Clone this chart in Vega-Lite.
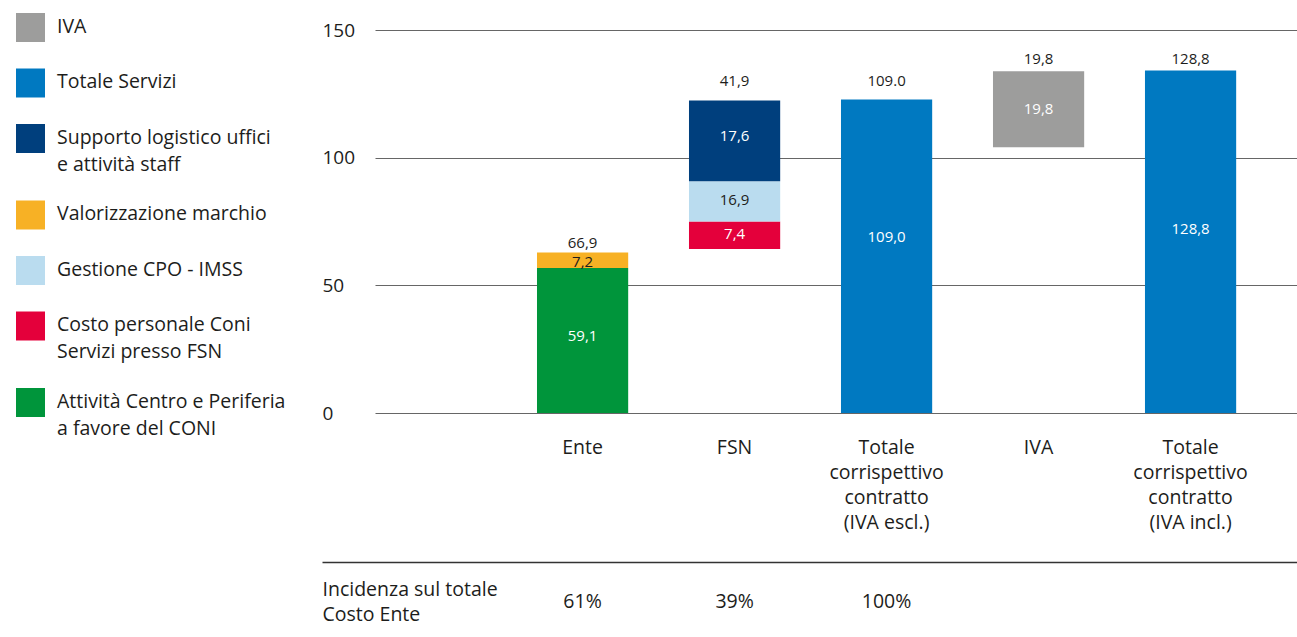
{
  "$schema": "https://vega.github.io/schema/vega-lite/v6.json",
  "background": "white",
  "autosize": {"type": "pad"},
  "padding": {"left": 16, "top": 13, "right": 0, "bottom": 0},
  "config": {
    "view": {"stroke": null},
    "font": "Open Sans",
    "text": {"font": "Open Sans"},
    "axis": {"labelFont": "Open Sans", "titleFont": "Open Sans"},
    "legend": {"labelFont": "Open Sans"}
  },
  "datasets": {
    "segments": [
      {"cat": "Ente", "series": "Attività Centro e Periferia a favore del CONI", "start": 0, "end": 56.8, "label": "59,1", "labelAt": 30.0},
      {"cat": "Ente", "series": "Valorizzazione marchio", "start": 56.8, "end": 62.9, "label": "7,2", "labelAt": 59.3},
      {"cat": "FSN", "series": "Costo personale Coni Servizi presso FSN", "start": 64.2, "end": 75.0, "label": "7,4", "labelAt": 70.3},
      {"cat": "FSN", "series": "Gestione CPO - IMSS", "start": 75.0, "end": 90.8, "label": "16,9", "labelAt": 83.3},
      {"cat": "FSN", "series": "Supporto logistico uffici e attività staff", "start": 90.8, "end": 122.4, "label": "17,6", "labelAt": 108.3},
      {"cat": "Totale corrispettivo contratto (IVA escl.)", "series": "Totale Servizi", "start": 0, "end": 122.8, "label": "109,0", "labelAt": 68.8},
      {"cat": "IVA", "series": "IVA", "start": 104.1, "end": 133.8, "label": "19,8", "labelAt": 118.9},
      {"cat": "Totale corrispettivo contratto (IVA incl.)", "series": "Totale Servizi", "start": 0, "end": 134.1, "label": "128,8", "labelAt": 71.9}
    ],
    "totals": [
      {"cat": "Ente", "label": "66,9", "labelAt": 66.4},
      {"cat": "FSN", "label": "41,9", "labelAt": 130.2},
      {"cat": "Totale corrispettivo contratto (IVA escl.)", "label": "109.0", "labelAt": 130.2},
      {"cat": "IVA", "label": "19,8", "labelAt": 138.8},
      {"cat": "Totale corrispettivo contratto (IVA incl.)", "label": "128,8", "labelAt": 138.8}
    ],
    "incidence": [
      {"cat": "Ente", "row": "Incidenza sul totale Costo Ente", "pct": "61%"},
      {"cat": "FSN", "row": "Incidenza sul totale Costo Ente", "pct": "39%"},
      {"cat": "Totale corrispettivo contratto (IVA escl.)", "row": "Incidenza sul totale Costo Ente", "pct": "100%"}
    ]
  },
  "spacing": 30,
  "vconcat": [
    {
      "width": 922,
      "height": 383,
      "layer": [
        {
          "data": {"name": "segments"},
          "mark": {"type": "bar"},
          "encoding": {
            "x": {
              "field": "cat",
              "type": "nominal",
              "sort": null,
              "scale": {
                "type": "band",
                "domain": ["Ente", "FSN", "Totale corrispettivo contratto (IVA escl.)", "IVA", "Totale corrispettivo contratto (IVA incl.)"],
                "paddingInner": 0.4,
                "paddingOuter": 0.733,
                "align": 0.727
              },
              "axis": {
                "title": null,
                "orient": "bottom",
                "domain": false,
                "ticks": false,
                "tickSize": 0,
                "grid": false,
                "labelAngle": 0,
                "labelPadding": 25.4,
                "labelBaseline": "top",
                "labelFontSize": 19.5,
                "labelLineHeight": 25,
                "labelColor": "#1d1d1b",
                "labelOverlap": false,
                "labelLimit": 400,
                "labelExpr": "datum.label === 'Totale corrispettivo contratto (IVA escl.)' ? ['Totale', 'corrispettivo', 'contratto', '(IVA escl.)'] : datum.label === 'Totale corrispettivo contratto (IVA incl.)' ? ['Totale', 'corrispettivo', 'contratto', '(IVA incl.)'] : datum.label"
              }
            },
            "y": {
              "field": "start",
              "type": "quantitative",
              "scale": {"domain": [0, 150], "nice": false},
              "axis": {
                "title": null,
                "values": [0, 50, 100, 150],
                "grid": true,
                "gridColor": "#666666",
                "gridWidth": 1.2,
                "domain": false,
                "ticks": false,
                "tickSize": 0,
                "labelPadding": 53,
                "labelAlign": "left",
                "labelBaseline": "middle",
                "labelFontSize": 19,
                "labelColor": "#1d1d1b"
              }
            },
            "y2": {"field": "end"},
            "color": {
              "field": "series",
              "type": "nominal",
              "scale": {
                "domain": ["IVA", "Totale Servizi", "Supporto logistico uffici e attività staff", "Valorizzazione marchio", "Gestione CPO - IMSS", "Costo personale Coni Servizi presso FSN", "Attività Centro e Periferia a favore del CONI"],
                "range": ["#9d9d9c", "#0079c1", "#003f7d", "#f7b125", "#badcef", "#e4003b", "#00953b"]
              },
              "legend": {
                "title": null,
                "orient": "none",
                "legendX": -359,
                "legendY": -17,
                "padding": 0,
                "symbolType": "square",
                "symbolSize": 841,
                "symbolStrokeWidth": 0,
                "symbolOpacity": 1,
                "labelFontSize": 19.5,
                "labelColor": "#1d1d1b",
                "labelOffset": 12,
                "labelLimit": 400,
                "labelBaseline": "alphabetic",
                "rowPadding": 26.5,
                "labelExpr": "datum.label === 'Supporto logistico uffici e attività staff' ? ['Supporto logistico uffici', 'e attività staff'] : datum.label === 'Costo personale Coni Servizi presso FSN' ? ['Costo personale Coni', 'Servizi presso FSN'] : datum.label === 'Attività Centro e Periferia a favore del CONI' ? ['Attività Centro e Periferia', 'a favore del CONI'] : datum.label",
                "encode": {
                  "labels": {"update": {"dy": {"value": 5}, "lineHeight": {"value": 27}}}
                }
              }
            }
          }
        },
        {
          "data": {"name": "segments"},
          "mark": {"type": "text", "fontSize": 15, "baseline": "middle", "align": "center"},
          "encoding": {
            "x": {"field": "cat", "type": "nominal", "sort": null},
            "y": {"field": "labelAt", "type": "quantitative"},
            "text": {"field": "label"},
            "color": {
              "condition": {"test": "datum.series === 'Gestione CPO - IMSS' || datum.series === 'Valorizzazione marchio'", "value": "#1d1d1b"},
              "value": "#ffffff"
            }
          }
        },
        {
          "data": {"name": "totals"},
          "mark": {"type": "text", "fontSize": 15, "baseline": "middle", "align": "center", "color": "#1d1d1b"},
          "encoding": {
            "x": {"field": "cat", "type": "nominal", "sort": null},
            "y": {"field": "labelAt", "type": "quantitative"},
            "text": {"field": "label"}
          }
        }
      ]
    },
    {
      "width": 922,
      "height": 74,
      "data": {"name": "incidence"},
      "mark": {"type": "text", "fontSize": 19.5, "baseline": "middle", "align": "center", "color": "#1d1d1b"},
      "encoding": {
        "x": {
          "field": "cat",
          "type": "nominal",
          "sort": null,
          "scale": {
            "type": "band",
            "domain": ["Ente", "FSN", "Totale corrispettivo contratto (IVA escl.)", "IVA", "Totale corrispettivo contratto (IVA incl.)"],
            "range": [-53, 922],
            "paddingInner": 0.4,
            "paddingOuter": 0.907,
            "align": 0.7796
          },
          "axis": {
            "title": null,
            "orient": "top",
            "labels": false,
            "ticks": false,
            "grid": false,
            "domain": true,
            "domainColor": "#333333",
            "domainWidth": 1.3
          }
        },
        "y": {
          "field": "row",
          "type": "nominal",
          "scale": {"type": "point", "align": 0.54},
          "axis": {
            "title": null,
            "domain": false,
            "ticks": false,
            "tickSize": 0,
            "grid": false,
            "labelPadding": 53,
            "labelAlign": "left",
            "labelBaseline": "middle",
            "labelOffset": -12.5,
            "labelFontSize": 19.5,
            "labelLineHeight": 25,
            "labelColor": "#1d1d1b",
            "labelLimit": 400,
            "labelExpr": "['Incidenza sul totale', 'Costo Ente']"
          }
        },
        "text": {"field": "pct"}
      }
    }
  ]
}
